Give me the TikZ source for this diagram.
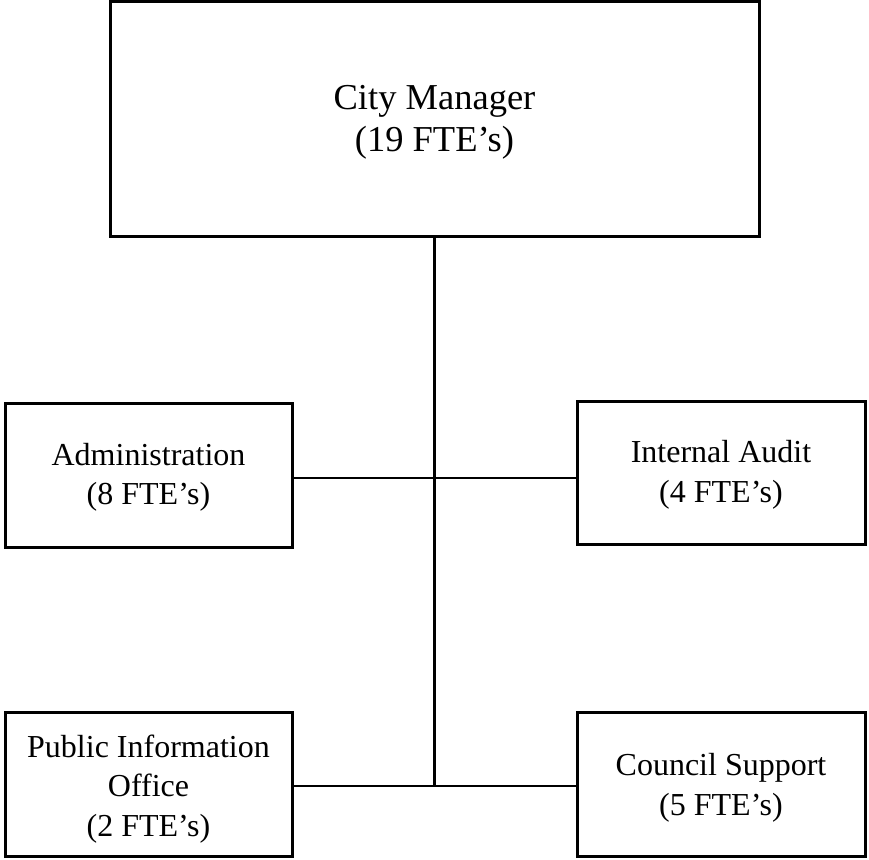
\documentclass[tikz,border=0pt]{standalone}
\usepackage{fontspec}
\setmainfont{Liberation Serif}
\begin{document}
\begin{tikzpicture}[x=1pt,y=-1pt,
  box/.style={draw=black,line width=3pt,fill=white,inner sep=0pt,align=center,font=\fontsize{32}{39.5}\selectfont},
  link/.style={draw=black,line width=2.8pt}]
\useasboundingbox (0,0) rectangle (869,859);
\node[box,minimum width=649pt,minimum height=234pt,font=\fontsize{36.5}{41.5}\selectfont] (cm) at (434.5,119) {\rule{0pt}{31pt}City Manager\\(19 FTE’s)};
\node[box,minimum width=287pt,minimum height=144pt] (adm) at (148.5,475) {\rule{0pt}{27pt}Administration\\(8 FTE’s)};
\node[box,minimum width=288pt,minimum height=143pt] (aud) at (721,472.5) {\rule{0pt}{27pt}Internal Audit\\(4 FTE’s)};
\node[box,minimum width=287pt,minimum height=144pt] (pio) at (148.5,784) {\rule{0pt}{32pt}Public Information\\Office\\(2 FTE’s)};
\node[box,minimum width=288pt,minimum height=144pt] (cs) at (721,784) {\rule{0pt}{30pt}Council Support\\(5 FTE’s)};
\coordinate (j1) at (434.5,478);
\coordinate (j2) at (434.5,786);
\draw[link] (cm.south) -- (j2);
\draw[link] (j1 -| adm.east) -- (j1 -| aud.west);
\draw[link] (j2 -| pio.east) -- (j2 -| cs.west);
\end{tikzpicture}
\end{document}
